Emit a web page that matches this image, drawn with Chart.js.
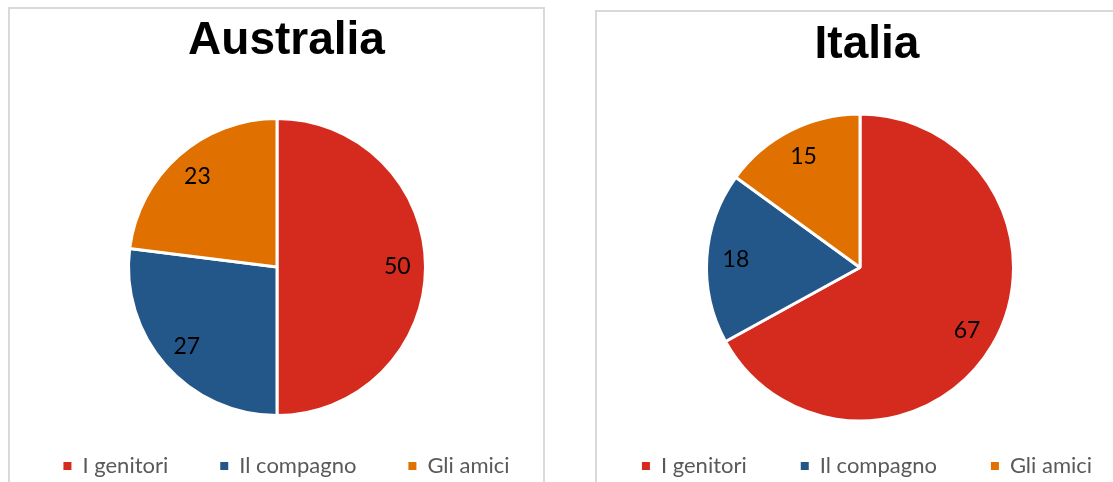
<!DOCTYPE html>
<html>
<head>
<meta charset="utf-8">
<script src="https://cdn.jsdelivr.net/npm/chart.js@4.4.1/dist/chart.umd.min.js"></script>
<style>
  html, body { margin: 0; padding: 0; background: #fff; overflow: hidden; width: 1113px; height: 482px; }
  .box { position: absolute; border: 2px solid #d9d9d9; background: #fff; }
  #boxAu { left: 8px; top: 7px; width: 533px; height: 500px; }
  #boxIt { left: 595px; top: 10px; width: 560px; height: 500px; }
  canvas { position: absolute; left: -10px; top: 0; }
  #boxIt { z-index: 1; }
  #boxAu { z-index: 2; background: transparent; }
</style>
</head>
<body>
<div class="box" id="boxAu"><canvas id="chartAu" width="573" height="478"></canvas></div>
<div class="box" id="boxIt"><canvas id="chartIt" width="560" height="475"></canvas></div>
<script>
const categories = ['I genitori', 'Il compagno', 'Gli amici'];
const australiaValues = [50, 27, 23];
const italiaValues = [67, 18, 15];
const sliceColors = ['#D52B1E', '#235789', '#E07000'];

// nudges the pie inside its chart area so the title/legend can stay centered on the box
const nudgeArea = {
  id: 'nudgeArea',
  afterLayout(chart, args, opts) {
    const a = chart.chartArea;
    const dx = opts.dx || 0, dy = opts.dy || 0;
    a.left += dx; a.right += dx;
    a.top += dy; a.bottom += dy;
  }
};

// value labels drawn inside each slice
const sliceLabels = {
  id: 'sliceLabels',
  afterDatasetsDraw(chart, args, opts) {
    const { ctx } = chart;
    const meta = chart.getDatasetMeta(0);
    const values = chart.data.datasets[0].data;
    ctx.save();
    ctx.font = '23px Lato';
    ctx.fillStyle = '#000';
    ctx.textAlign = 'center';
    ctx.textBaseline = 'middle';
    meta.data.forEach((arc, i) => {
      const { x, y, startAngle, endAngle, outerRadius } =
        arc.getProps(['x', 'y', 'startAngle', 'endAngle', 'outerRadius'], true);
      const mid = (startAngle + endAngle) / 2;
      const r = outerRadius * (opts.ratio || 0.81);
      ctx.fillText(String(values[i]), x + Math.cos(mid) * r, y + Math.sin(mid) * r);
    });
    ctx.restore();
  }
};

function makePie(id, title, values, layout) {
  return new Chart(document.getElementById(id), {
    type: 'pie',
    data: {
      labels: categories,
      datasets: [{
        data: values,
        backgroundColor: sliceColors,
        borderColor: '#ffffff',
        borderWidth: 3
      }]
    },
    options: {
      responsive: false,
      animation: false,
      events: [],
      layout: { padding: 0 },
      plugins: {
        title: {
          display: true,
          text: title,
          color: '#000',
          font: { family: 'Liberation Sans', size: 46, weight: 'bold' },
          padding: { top: layout.titleTop, bottom: layout.titleBottom }
        },
        legend: {
          position: 'bottom',
          labels: {
            font: { family: 'Lato', size: 22 },
            color: '#595959',
            boxWidth: 8,
            boxHeight: 8,
            padding: layout.legendGap,
            generateLabels: chart => chart.data.labels.map((text, i) => ({
              text,
              fillStyle: sliceColors[i],
              strokeStyle: sliceColors[i],
              lineWidth: 0,
              fontColor: '#595959',
              hidden: false,
              index: i
            }))
          }
        },
        tooltip: { enabled: false },
        nudgeArea: { dx: layout.dx, dy: layout.dy },
        sliceLabels: { ratio: 0.81 }
      }
    },
    plugins: [nudgeArea, sliceLabels]
  });
}

makePie('chartAu', 'Australia', australiaValues,
  { titleTop: 5, titleBottom: 33.8, legendGap: 52, dx: -9.5, dy: 14 });
makePie('chartIt', 'Italia', italiaValues,
  { titleTop: 5.4, titleBottom: 18.4, legendGap: 54, dx: -7, dy: 21.5 });
</script>
</body>
</html>
